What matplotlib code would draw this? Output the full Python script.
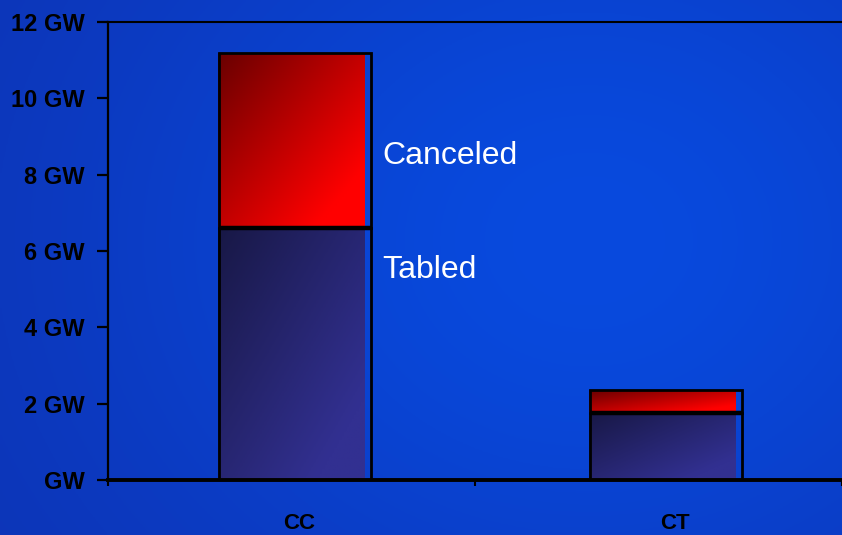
import numpy as np
import matplotlib
matplotlib.use("Agg")
import matplotlib.pyplot as plt

plt.rcParams['font.family'] = ['Liberation Sans', 'DejaVu Sans']

# data (GW)
categories = ["CC", "CT"]
tabled = [6.6, 1.75]
canceled = [4.6, 0.6]
y_ticks = [0, 2, 4, 6, 8, 10, 12]
y_labels = ["GW", "2 GW", "4 GW", "6 GW", "8 GW", "10 GW", "12 GW"]

x_pos = [0.50, 1.51]
bar_w = 0.40

fig = plt.figure(figsize=(8.42, 5.35), dpi=100)

# blue background
bg = fig.add_axes([0, 0, 1, 1], zorder=-10)
gx, gy = np.meshgrid(np.linspace(0, 1, 300), np.linspace(0, 1, 200))
glow = np.exp(-(((gx - 0.7) / 0.6) ** 2 + ((gy - 0.45) / 0.8) ** 2))
dark = np.array([14, 50, 178]) / 255
light = np.array([8, 74, 222]) / 255
img = dark + (light - dark) * glow[..., None]
bg.imshow(img, extent=[0, 1, 0, 1], aspect='auto', origin='upper')
bg.axis('off')

ax = fig.add_axes([108 / 842, 1 - 480 / 535, 1 - 108 / 842, (480 - 22) / 535])
ax.patch.set_alpha(0)


def gradient_fill(bars, c0, c1):
    for b in bars:
        x0, y0, w, h = b.get_x(), b.get_y(), b.get_width(), b.get_height()
        u, v = np.meshgrid(np.linspace(0, 1, 60), np.linspace(0, 1, 60))
        t = np.clip(0.6 * u + 0.6 * v, 0, 1)[..., None]
        g = np.array(c0) / 255 + (np.array(c1) - np.array(c0)) / 255 * t
        im = ax.imshow(g, extent=[x0, x0 + w, y0, y0 + h], aspect='auto',
                       origin='upper', zorder=2)
        im.set_clip_path(b)


b1 = ax.bar(x_pos, tabled, width=bar_w, color='none', linewidth=0, zorder=2)
b2 = ax.bar(x_pos, canceled, bottom=tabled, width=bar_w, color='none',
            linewidth=0, zorder=2)
gradient_fill(b1, (24, 24, 70), (50, 48, 145))
gradient_fill(b2, (105, 0, 0), (255, 0, 0))

# outlines, slightly wider towards the right (shadow look)
out_w = bar_w + 0.014
out_x = [p - bar_w / 2 + 0.003 for p in x_pos]
ax.bar(out_x, tabled, width=out_w, align='edge', fill=False,
       edgecolor='black', linewidth=2.0, zorder=3)
ax.bar(out_x, canceled, bottom=tabled, width=out_w, align='edge',
       fill=False, edgecolor='black', linewidth=2.0, zorder=3)
ax.hlines(tabled, out_x, [x + out_w for x in out_x], color='black',
          linewidth=3.2, zorder=3)

ax.text(0.747, 8.5, "Canceled", color='white', fontsize=23, va='center')
ax.text(0.747, 5.5, "Tabled", color='white', fontsize=23, va='center')

ax.set_xlim(0, 2)
ax.set_ylim(0, 12)
ax.set_yticks(y_ticks)
ax.set_yticklabels(y_labels, fontsize=17, fontweight='bold')
ax.tick_params(axis='y', length=8, width=1.6, pad=9, colors='black')

ax.set_xticks([0, 1, 2])
ax.set_xticklabels([])
ax.set_xticks([0.52, 1.545], minor=True)
ax.set_xticklabels(categories, minor=True, fontsize=16, fontweight='bold')
ax.tick_params(axis='x', which='major', length=4, width=1.5)
ax.tick_params(axis='x', which='minor', length=0, pad=24)

ax.spines['right'].set_visible(False)
ax.spines['top'].set_linewidth(1.5)
ax.spines['left'].set_linewidth(1.6)
ax.spines['bottom'].set_linewidth(2.8)

fig.savefig("out.png", dpi=100)
